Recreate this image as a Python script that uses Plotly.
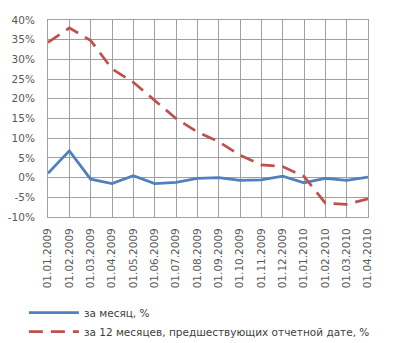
import plotly.graph_objects as go

dates = ["01.01.2009", "01.02.2009", "01.03.2009", "01.04.2009", "01.05.2009",
         "01.06.2009", "01.07.2009", "01.08.2009", "01.09.2009", "01.10.2009",
         "01.11.2009", "01.12.2009", "01.01.2010", "01.02.2010", "01.03.2010",
         "01.04.2010"]
monthly = [1.1, 6.8, -0.4, -1.5, 0.5, -1.5, -1.2, -0.2, 0.0, -0.7,
           -0.6, 0.35, -1.3, -0.2, -0.7, 0.1]
yearly = [34.3, 38.0, 34.8, 27.6, 24.2, 19.6, 15.0, 11.6, 9.1, 5.7,
          3.2, 2.8, 0.3, -6.5, -6.8, -5.4]
name_monthly = "за месяц, %"
name_yearly = "за 12 месяцев, предшествующих отчетной дате, %"
y_ticks = [40, 35, 30, 25, 20, 15, 10, 5, 0, -5, -10]

font = dict(family="DejaVu Sans", size=10.5, color="#595959")
grid = "#a0a0a0"

fig = go.Figure()
fig.add_trace(go.Scatter(x=list(range(len(dates))), y=monthly, mode="lines",
                         name=name_monthly,
                         line=dict(color="#4F81BD", width=2.75)))
fig.add_trace(go.Scatter(x=list(range(len(dates))), y=yearly, mode="lines",
                         name=name_yearly,
                         line=dict(color="#C0504D", width=2.75, dash="14px,8px")))

fig.update_layout(
    width=412, height=343,
    margin=dict(l=48, r=44, t=20, b=126, autoexpand=False),
    paper_bgcolor="white", plot_bgcolor="white",
    font=font,
    showlegend=True,
    legend=dict(orientation="v", xref="container", yref="container",
                x=0.058, y=0.131, xanchor="left", yanchor="top",
                font=dict(family="DejaVu Sans", size=10.5, color="#404040"),
                tracegroupgap=7, itemwidth=50, bgcolor="rgba(0,0,0,0)"),
    xaxis=dict(range=[0, len(dates) - 1], tickmode="array",
               tickvals=list(range(len(dates))), ticktext=dates,
               tickangle=-90, showgrid=True, gridcolor=grid, gridwidth=1,
               showline=True, linecolor=grid, mirror=True, zeroline=False,
               ticks="outside", ticklen=6, tickcolor="rgba(0,0,0,0)",
               tickfont=font, automargin=False),
    yaxis=dict(range=[-10, 40], tickmode="array", tickvals=y_ticks,
               ticktext=[f"{v}%" for v in y_ticks],
               showgrid=True, gridcolor=grid, gridwidth=1,
               showline=True, linecolor=grid, mirror=True, zeroline=False,
               ticks="outside", ticklen=10, tickcolor="rgba(0,0,0,0)",
               tickfont=font, automargin=False),
)

fig.write_html("out.html")
